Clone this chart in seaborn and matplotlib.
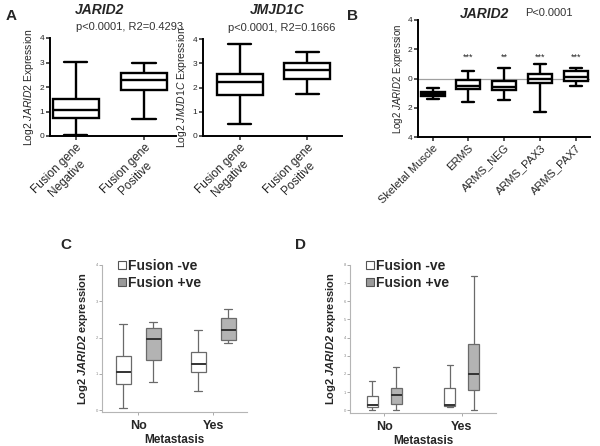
import matplotlib
matplotlib.use("Agg")
import matplotlib.pyplot as plt
from matplotlib.lines import Line2D
import seaborn as sns
import pandas as pd

# ---------------- data (five-number summaries) ----------------
cats_A = ["Fusion gene\nNegative", "Fusion gene\nPositive"]
jarid2_neg = [0.04, 0.75, 1.08, 1.52, 3.03]
jarid2_pos = [0.68, 1.88, 2.29, 2.58, 2.99]
jmjd1c_neg = [0.49, 1.71, 2.23, 2.57, 3.80]
jmjd1c_pos = [1.75, 2.33, 2.73, 3.00, 3.48]

cats_B = ["Skeletal Muscle", "ERMS", "ARMS_NEG", "ARMS_PAX3", "ARMS_PAX7"]
b_skm = [-1.41, -1.23, -1.07, -0.93, -0.66]
b_erms = [-1.61, -0.73, -0.50, -0.09, 0.52]
b_arms_neg = [-1.45, -0.82, -0.55, -0.18, 0.73]
b_pax3 = [-2.30, -0.34, 0.00, 0.32, 1.00]
b_pax7 = [-0.52, -0.20, 0.09, 0.50, 0.73]
stars_B = ["", "***", "**", "***", "***"]
yticklabels_B = ["4", "2", "0", "2", "4"]

meta_cats = ["No", "Yes"]
fusion_cats = ["Fusion -ve", "Fusion +ve"]
c_neg_no = [0.05, 0.72, 1.04, 1.49, 2.36]
c_pos_no = [0.78, 1.37, 1.97, 2.27, 2.44]
c_neg_yes = [0.53, 1.04, 1.26, 1.59, 2.22]
c_pos_yes = [1.85, 1.92, 2.22, 2.54, 2.80]
d_neg_no = [0.04, 0.18, 0.31, 0.76, 1.60]
d_pos_no = [0.04, 0.33, 0.82, 1.22, 2.40]
d_neg_yes = [0.20, 0.22, 0.31, 1.20, 2.47]
d_pos_yes = [0.00, 1.09, 2.02, 3.64, 7.40]

# ---------------- style ----------------
sns.set_style("ticks")
plt.rcParams["font.family"] = ["Liberation Sans", "DejaVu Sans"]
plt.rcParams["mathtext.fontset"] = "custom"
plt.rcParams["mathtext.rm"] = "Liberation Sans"
plt.rcParams["mathtext.it"] = "Liberation Sans:italic"
plt.rcParams["mathtext.bf"] = "Liberation Sans:bold"
plt.rcParams["mathtext.bfit"] = "Liberation Sans:italic:bold"

W, H = 600, 446
fig = plt.figure(figsize=(W / 100, H / 100), dpi=100)


def ax_at(l, t, r, b):
    return fig.add_axes([l / W, 1 - b / H, (r - l) / W, (b - t) / H])


def ftext(x, y, s, **kw):
    fig.text(x / W, 1 - y / H, s, **kw)


def long_df(cats, groups):
    rows = []
    for c, g in zip(cats, groups):
        for v in g:
            rows.append({"cat": c, "val": v})
    return pd.DataFrame(rows)


def style_prism(ax):
    sns.despine(ax=ax)
    for s in ("left", "bottom"):
        ax.spines[s].set_linewidth(1.4)
        ax.spines[s].set_color("black")
    ax.tick_params(axis="both", width=1.1, length=3, labelsize=6, pad=1)


box_kw = dict(whis=(0, 100), showfliers=False, color="white", linecolor="black",
              linewidth=1.7, width=0.68)

# ---------------- Panel A: JARID2 ----------------
axA1 = ax_at(50, 38, 176, 136)
dfA1 = long_df(cats_A, [jarid2_neg, jarid2_pos])
sns.boxplot(data=dfA1, x="cat", y="val", ax=axA1, **box_kw)
axA1.set_xlim(-0.38, 1.47)
axA1.set_ylim(0, 4)
axA1.set_yticks([0, 1, 2, 3, 4])
style_prism(axA1)
axA1.set_xlabel("")
axA1.set_ylabel("Log2 $\\mathit{JARID2}$ Expression", fontsize=7.5, labelpad=3)
axA1.set_xticks([0, 1])
axA1.set_xticklabels(cats_A, rotation=45, ha="right", rotation_mode="anchor",
                     fontsize=8.5, multialignment="center")

# ---------------- Panel A: JMJD1C ----------------
axA2 = ax_at(203, 39, 342, 136)
dfA2 = long_df(cats_A, [jmjd1c_neg, jmjd1c_pos])
sns.boxplot(data=dfA2, x="cat", y="val", ax=axA2, **box_kw)
axA2.set_xlim(-0.54, 1.51)
axA2.set_ylim(0, 4)
axA2.set_yticks([0, 1, 2, 3, 4])
style_prism(axA2)
axA2.set_xlabel("")
axA2.set_ylabel("Log2 $\\mathit{JMJD1C}$ Expression", fontsize=7.5, labelpad=3)
axA2.set_xticks([0, 1])
axA2.set_xticklabels(cats_A, rotation=45, ha="right", rotation_mode="anchor",
                     fontsize=8.5, multialignment="center")

# ---------------- Panel B ----------------
axB = ax_at(418, 20, 590, 137)
axB.axhline(0, color="#a0a0a0", lw=0.9, zorder=0)
dfB = long_df(cats_B, [b_skm, b_erms, b_arms_neg, b_pax3, b_pax7])
sns.boxplot(data=dfB, x="cat", y="val", ax=axB, whis=(0, 100), showfliers=False,
            color="white", linecolor="black", linewidth=1.7, width=0.67)
axB.set_xlim(-0.41, 4.4)
axB.set_ylim(-4, 4)
axB.set_yticks([4, 2, 0, -2, -4])
axB.set_yticklabels(yticklabels_B)
style_prism(axB)
axB.set_xlabel("")
axB.set_ylabel("Log2 $\\mathit{JARID2}$ Expression", fontsize=7, labelpad=2)
axB.set_xticks(range(len(cats_B)))
axB.set_xticklabels(cats_B, rotation=45, ha="right", rotation_mode="anchor", fontsize=8)
for i, s in enumerate(stars_B):
    if s:
        axB.text(i, 1.45, s, ha="center", va="center", fontsize=6.5)


# ---------------- Panels C / D ----------------
def meta_panel(ax, groups, ylim, yticks, width, gap):
    rows = []
    for m, (gneg, gpos) in zip(meta_cats, groups):
        for v in gneg:
            rows.append({"meta": m, "fusion": fusion_cats[0], "val": v})
        for v in gpos:
            rows.append({"meta": m, "fusion": fusion_cats[1], "val": v})
    df = pd.DataFrame(rows)
    sns.boxplot(data=df, x="meta", y="val", hue="fusion", ax=ax, whis=(0, 100),
                showfliers=False, palette=["white", "#b3b3b3"], linecolor="#6a6a6a",
                linewidth=0.9, width=width, gap=gap, legend=False,
                medianprops=dict(color="#333333", linewidth=1.4))
    sns.despine(ax=ax)
    for s in ("left", "bottom"):
        ax.spines[s].set_color("#b5b5b5")
        ax.spines[s].set_linewidth(0.8)
    ax.set_ylim(*ylim)
    ax.set_yticks(yticks)
    ax.tick_params(axis="y", labelsize=3, colors="#888888", length=2, width=0.5, pad=1)
    ax.tick_params(axis="x", labelsize=9, length=2, width=0.5, color="#888888", pad=4)
    for lab in ax.get_xticklabels():
        lab.set_fontweight("bold")
    ax.set_xlabel("Metastasis", fontsize=8.5, fontweight="bold", labelpad=1)
    ax.set_ylabel("Log2 $\\mathbfit{JARID2}$ expression", fontsize=8,
                  fontweight="bold", labelpad=4)
    handles = [Line2D([], [], marker="s", ls="", markersize=6, markerfacecolor="white",
                      markeredgecolor="#555555", markeredgewidth=0.8),
               Line2D([], [], marker="s", ls="", markersize=6, markerfacecolor="#9a9a9a",
                      markeredgecolor="#555555", markeredgewidth=0.8)]
    ax.legend(handles, fusion_cats, loc="upper left", bbox_to_anchor=(0.1, 1.04),
              frameon=False, prop=dict(weight="bold", size=10), handletextpad=0.05,
              handlelength=0.8, labelspacing=0.2, borderpad=0, borderaxespad=0)


axC = ax_at(102, 265, 247, 412)
meta_panel(axC, [(c_neg_no, c_pos_no), (c_neg_yes, c_pos_yes)], (-0.054, 4.0),
           [0, 1, 2, 3, 4], 0.8, 0.5)
axC.set_xlim(-0.48, 1.45)

axD = ax_at(350, 265, 496, 413)
meta_panel(axD, [(d_neg_no, d_pos_no), (d_neg_yes, d_pos_yes)], (-0.15, 8.0),
           list(range(9)), 0.62, 0.55)
axD.set_xlim(-0.44, 1.44)

# ---------------- titles and panel letters ----------------
ftext(100, 10, "JARID2", fontsize=10, fontweight="bold", fontstyle="italic",
      ha="center", va="center")
ftext(76, 27, "p<0.0001, R2=0.4293", fontsize=8, ha="left", va="center", color="#333333")
ftext(277, 10, "JMJD1C", fontsize=10, fontweight="bold", fontstyle="italic",
      ha="center", va="center")
ftext(228, 28, "p<0.0001, R2=0.1666", fontsize=8, ha="left", va="center", color="#333333")
ftext(485, 14, "JARID2", fontsize=10, fontweight="bold", fontstyle="italic",
      ha="center", va="center")
ftext(549, 13, "P<0.0001", fontsize=8, ha="center", va="center", color="#333333")

ftext(11, 16, "A", fontsize=11, fontweight="bold", ha="center", va="center")
ftext(352, 16, "B", fontsize=11, fontweight="bold", ha="center", va="center")
ftext(66, 245, "C", fontsize=11, fontweight="bold", ha="center", va="center")
ftext(301, 245, "D", fontsize=11, fontweight="bold", ha="center", va="center")

fig.savefig("out.png", dpi=100)
